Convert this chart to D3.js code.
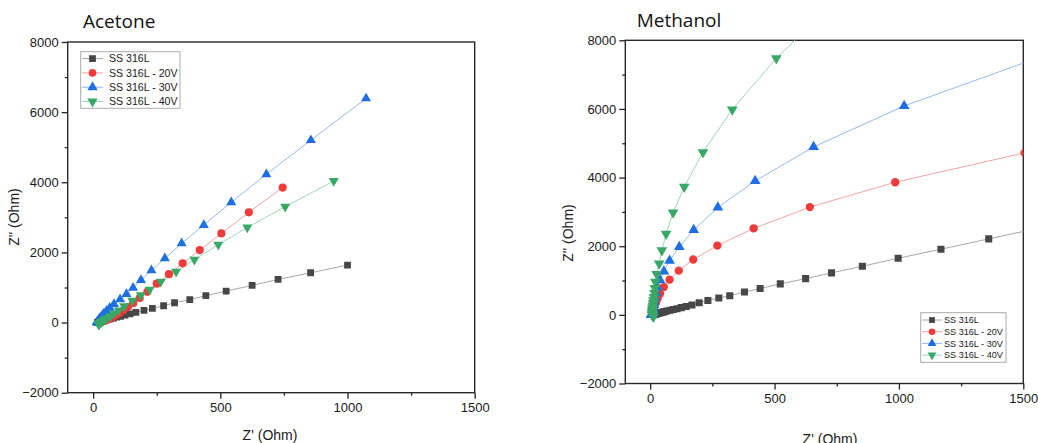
<!DOCTYPE html>
<html><head><meta charset="utf-8">
<script src="https://cdn.jsdelivr.net/npm/d3@7"></script>
<style>body{margin:0;background:#fff}svg{display:block}</style>
</head><body>
<svg id="c" width="1038" height="443"></svg>
<script>
const seriesNames = ["SS 316L", "SS 316L - 20V", "SS 316L - 30V", "SS 316L - 40V"];
const xTicks = [0, 500, 1000, 1500];
const xMinorTicks = [250, 750, 1250];
const yTicks = [-2000, 0, 2000, 4000, 6000, 8000];
const yMinorTicks = [-1000, 1000, 3000, 5000, 7000];

const acetoneSS = [[17,2],[19,6],[21,11],[24,17],[27,25],[31,33],[36,44],[42,56],[49,70],[58,87],[68,106],[80,128],[93,152],[108,180],[125,212],[145,250],[168,290],[200,345],[233,404],[277,479],[320,565],[380,655],[443,765],[523,898],[625,1058],[727,1230],[855,1420],[1000,1640]];
const acetone20V = [[20,0],[23,3],[27,8],[31,16],[36,27],[42,42],[49,62],[57,88],[66,120],[77,160],[89,210],[103,272],[119,350],[137,445],[158,560],[183,700],[213,876],[250,1110],[298,1380],[352,1688],[419,2067],[504,2543],[612,3143],[745,3848]];
const acetone30V = [[14,2],[15,10],[17,25],[19,45],[21,70],[25,105],[29,145],[35,195],[42,255],[52,330],[65,420],[82,527],[106,661],[131,813],[157,993],[188,1211],[229,1487],[282,1830],[348,2258],[435,2781],[543,3429],[681,4229],[856,5200],[1073,6390]];
const acetone40V = [[22,-60],[23,-40],[25,-22],[27,-8],[30,8],[34,28],[40,55],[47,90],[56,135],[68,190],[82,260],[100,350],[122,470],[154,623],[187,784],[222,935],[266,1163],[326,1449],[398,1790],[492,2220],[606,2714],[755,3305],[946,4038]];

const methanolSS = [[15,3],[17,9],[20,16],[23,24],[27,33],[32,43],[37,54],[43,66],[50,80],[58,95],[68,112],[80,132],[93,155],[108,180],[125,210],[145,245],[168,285],[197,355],[232,420],[276,492],[320,558],[379,665],[442,768],[523,903],[625,1055],[729,1223],[853,1417],[997,1650],[1169,1913],[1361,2214],[1584,2560]];
const methanol20V = [[10,5],[10,25],[11,55],[12,95],[14,145],[16,205],[19,280],[24,370],[30,480],[40,620],[55,810],[78,1025],[115,1287],[173,1613],[270,2020],[416,2522],[642,3140],[985,3864],[1505,4720]];
const methanol30V = [[3,0],[9,10],[9,35],[10,70],[11,110],[12,160],[13,220],[15,295],[17,385],[20,495],[24,630],[30,800],[40,1010],[55,1268],[78,1578],[117,1982],[175,2472],[272,3128],[422,3903],[657,4893],[1021,6087],[1590,7570]];
const methanol40V = [[13,-55],[10,-20],[8,10],[8,40],[8,75],[9,115],[9,160],[10,210],[11,270],[12,340],[13,420],[15,520],[17,640],[19,780],[21,960],[26,1190],[36,1497],[47,1880],[64,2360],[92,2978],[137,3728],[212,4738],[330,5981],[507,7476],[770,9340]];

const markerColors = ["#474747", "#f03b3b", "#1e6fe3", "#38a866"];
const lineColors = ["#a8a8a8", "#f5a3a3", "#93b9f0", "#9fd6b5"];
const symbols = [d3.symbolSquare, d3.symbolCircle, d3.symbolTriangle, d3.symbolTriangle];

const svg = d3.select("#c");
const FONT = "'Liberation Sans', Arial, sans-serif";

const panels = [
  { id: "a", title: "Acetone", data: [acetoneSS, acetone20V, acetone30V, acetone40V],
    x0: 67.7, x1: 474.7, y0: 392.7, y1: 42,
    titleX: 83, titleY: 28, xLabX: 270, xLabY: 440, yLabX: 14, yLabY: 217,
    legend: { x: 80.7, y: 51.7, w: 99.3, h: 56.6, row0: 58.6, dy: 14.3, lx0: 82, lx1: 103, mx: 92.5, tx: 109, fs: 10.6, ms: 46 },
    ms: [46, 52, 44, 44] },
  { id: "m", title: "Methanol", data: [methanolSS, methanol20V, methanol30V, methanol40V],
    x0: 625.3, x1: 1023.3, y0: 383.5, y1: 40.3,
    titleX: 636.7, titleY: 27, xLabX: 830, xLabY: 444, yLabX: 568, yLabY: 233,
    legend: { x: 920.7, y: 312.7, w: 85.3, h: 49.6, row0: 320, dy: 11.7, lx0: 922, lx1: 942, mx: 932, tx: 944, fs: 9.1, ms: 34 },
    ms: [50, 54, 50, 50] }
];

panels.forEach(p => {
  const x = d3.scaleLinear().domain([-100, 1500]).range([p.x0, p.x1]);
  const y = d3.scaleLinear().domain([-2000, 8000]).range([p.y0, p.y1]);
  const g = svg.append("g");

  g.append("clipPath").attr("id", "clip-" + p.id)
    .append("rect").attr("x", p.x0).attr("y", p.y1).attr("width", p.x1 - p.x0).attr("height", p.y0 - p.y1);

  // axes
  const ax = g.append("g").attr("transform", `translate(0,${p.y0})`)
    .call(d3.axisBottom(x).tickValues(xTicks).tickSize(6).tickPadding(4).tickFormat(d3.format("d")));
  const axm = g.append("g").attr("transform", `translate(0,${p.y0})`)
    .call(d3.axisBottom(x).tickValues(xMinorTicks).tickSize(3).tickFormat(""));
  const ay = g.append("g").attr("transform", `translate(${p.x0},0)`)
    .call(d3.axisLeft(y).tickValues(yTicks).tickSize(6).tickPadding(3).tickFormat(d3.format("d")));
  const aym = g.append("g").attr("transform", `translate(${p.x0},0)`)
    .call(d3.axisLeft(y).tickValues(yMinorTicks).tickSize(3).tickFormat(""));
  [ax, axm, ay, aym].forEach(a => {
    a.select(".domain").remove();
    a.selectAll("line").attr("stroke", "#222").attr("stroke-width", 1.3);
    a.selectAll("text").attr("font-family", FONT).attr("font-size", 13).attr("fill", "#1a1a1a");
  });

  // frame
  g.append("rect").attr("x", p.x0).attr("y", p.y1).attr("width", p.x1 - p.x0).attr("height", p.y0 - p.y1)
    .attr("fill", "none").attr("stroke", "#2a2a2a").attr("stroke-width", 1.4);

  // series
  const plot = g.append("g").attr("clip-path", `url(#clip-${p.id})`);
  const line = d3.line().x(d => x(d[0])).y(d => y(d[1]));
  p.data.forEach((ser, i) => {
    plot.append("path").datum(ser).attr("d", line).attr("fill", "none")
      .attr("stroke", lineColors[i]).attr("stroke-width", 1);
  });
  p.data.forEach((ser, i) => {
    const sym = d3.symbol().type(symbols[i]).size(p.ms[i]);
    plot.selectAll(null).data(ser).enter().append("path")
      .attr("d", sym)
      .attr("transform", d => `translate(${x(d[0])},${y(d[1])})` + (i === 3 ? " rotate(180)" : ""))
      .attr("fill", markerColors[i]);
  });

  // titles
  g.append("text").attr("x", p.titleX).attr("y", p.titleY).text(p.title)
    .attr("font-family", "'Open Sans', sans-serif").attr("font-size", 19).attr("fill", "#111");
  g.append("text").attr("x", p.xLabX).attr("y", p.xLabY).attr("text-anchor", "middle").text("Z' (Ohm)")
    .attr("font-family", FONT).attr("font-size", 14).attr("fill", "#1a1a1a");
  g.append("text").attr("transform", `translate(${p.yLabX},${p.yLabY}) rotate(-90)`)
    .attr("text-anchor", "middle").attr("dy", "0.35em").text("Z'' (Ohm)")
    .attr("font-family", FONT).attr("font-size", 14).attr("fill", "#1a1a1a");

  // legend
  const L = p.legend;
  const lg = g.append("g");
  lg.append("rect").attr("x", L.x).attr("y", L.y).attr("width", L.w).attr("height", L.h)
    .attr("fill", "#fff").attr("stroke", "#aaa").attr("stroke-width", 1);
  seriesNames.forEach((name, i) => {
    const yy = L.row0 + i * L.dy;
    lg.append("line").attr("x1", L.lx0).attr("x2", L.lx1).attr("y1", yy).attr("y2", yy)
      .attr("stroke", lineColors[i]).attr("stroke-width", 1);
    lg.append("path").attr("d", d3.symbol().type(symbols[i]).size(L.ms)())
      .attr("transform", `translate(${L.mx},${yy})` + (i === 3 ? " rotate(180)" : ""))
      .attr("fill", markerColors[i]);
    lg.append("text").attr("x", L.tx).attr("y", yy).attr("dy", "0.36em").text(name)
      .attr("font-family", FONT).attr("font-size", L.fs).attr("fill", "#1a1a1a");
  });
});
</script>
</body></html>
